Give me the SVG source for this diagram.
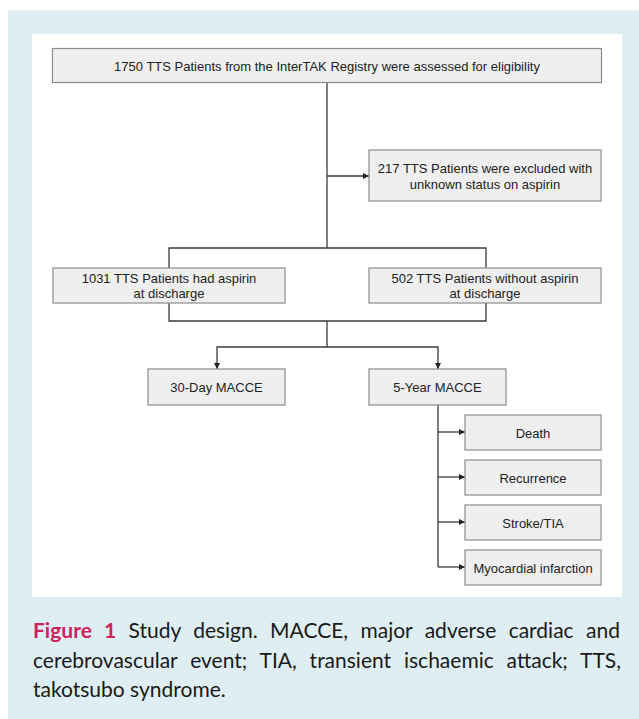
<svg xmlns="http://www.w3.org/2000/svg" width="639" height="719" viewBox="0 0 639 719">
<style>
.box{fill:#efefef;stroke:#8c8c8c;stroke-width:1.2}
.t{font-family:"Liberation Sans",Arial,sans-serif;font-size:13px;fill:#222;text-anchor:middle}
.ln{fill:none;stroke:#3a3a3a;stroke-width:1.3}
.cap{font-family:Lato,"Open Sans",sans-serif;font-size:21px;fill:#1a1a1a}
.fig{fill:#d0215b;font-weight:bold}
</style>
<defs>
<marker id="ah" viewBox="0 0 10 10" refX="10" refY="5" markerWidth="6" markerHeight="6" markerUnits="userSpaceOnUse" orient="auto">
<path d="M0,0 L10,5 L0,10 z" fill="#222"/>
</marker>
</defs>
<rect x="8" y="10" width="631" height="709" fill="#deeef3"/>
<rect x="32" y="34" width="590" height="563" fill="#ffffff"/>
<g id="connectors">
<path class="ln" d="M327,83 V248"/>
<path class="ln" d="M327,176 H369" marker-end="url(#ah)"/>
<path class="ln" d="M169,268 V248 H486 V268"/>
<path class="ln" d="M169,303 V321 H486 V303"/>
<path class="ln" d="M327,321 V347"/>
<path class="ln" d="M327,347 H217 V369" marker-end="url(#ah)"/>
<path class="ln" d="M327,347 H438 V369" marker-end="url(#ah)"/>
<path class="ln" d="M438,405 V567"/>
<path class="ln" d="M438,432 H465" marker-end="url(#ah)"/>
<path class="ln" d="M438,477 H465" marker-end="url(#ah)"/>
<path class="ln" d="M438,522 H465" marker-end="url(#ah)"/>
<path class="ln" d="M438,567 H465" marker-end="url(#ah)"/>
</g>
<g id="n-assessed">
<rect class="box" x="52.5" y="48.5" width="549" height="34"/>
<text class="t" x="327" y="70.5">1750 TTS Patients from the InterTAK Registry were assessed for eligibility</text>
</g>
<g id="n-excluded">
<rect class="box" x="369" y="150" width="232" height="51"/>
<text class="t" x="485" y="172.5">217 TTS Patients were excluded with</text>
<text class="t" x="485" y="188.5">unknown  status on aspirin</text>
</g>
<g id="n-aspirin">
<rect class="box" x="53" y="268" width="232" height="35"/>
<text class="t" x="169" y="282.5">1031 TTS Patients had aspirin</text>
<text class="t" x="169" y="298">at discharge</text>
</g>
<g id="n-noaspirin">
<rect class="box" x="369" y="268" width="232" height="35"/>
<text class="t" x="485" y="282.5">502 TTS Patients without aspirin</text>
<text class="t" x="485" y="298">at discharge</text>
</g>
<g id="n-30day">
<rect class="box" x="148" y="369" width="137" height="36"/>
<text class="t" x="216.5" y="392">30-Day MACCE</text>
</g>
<g id="n-5year">
<rect class="box" x="369" y="369" width="137" height="36"/>
<text class="t" x="437.5" y="392">5-Year MACCE</text>
</g>
<g id="n-death">
<rect class="box" x="465" y="415" width="136" height="35"/>
<text class="t" x="533" y="437.5">Death</text>
</g>
<g id="n-recurrence">
<rect class="box" x="465" y="460" width="136" height="35"/>
<text class="t" x="533" y="482.5">Recurrence</text>
</g>
<g id="n-stroke">
<rect class="box" x="465" y="505" width="136" height="35"/>
<text class="t" x="533" y="527.5">Stroke/TIA</text>
</g>
<g id="n-mi">
<rect class="box" x="465" y="550" width="136" height="35"/>
<text class="t" x="533" y="572.5">Myocardial infarction</text>
</g>
<g id="caption">
<text class="cap" x="33" y="638" word-spacing="7"><tspan class="fig">Figure 1</tspan> Study design. MACCE, major adverse cardiac and</text>
<text class="cap" x="33" y="668" word-spacing="7.5">cerebrovascular event; TIA, transient ischaemic attack; TTS,</text>
<text class="cap" x="33" y="697">takotsubo syndrome.</text>
</g>
</svg>
